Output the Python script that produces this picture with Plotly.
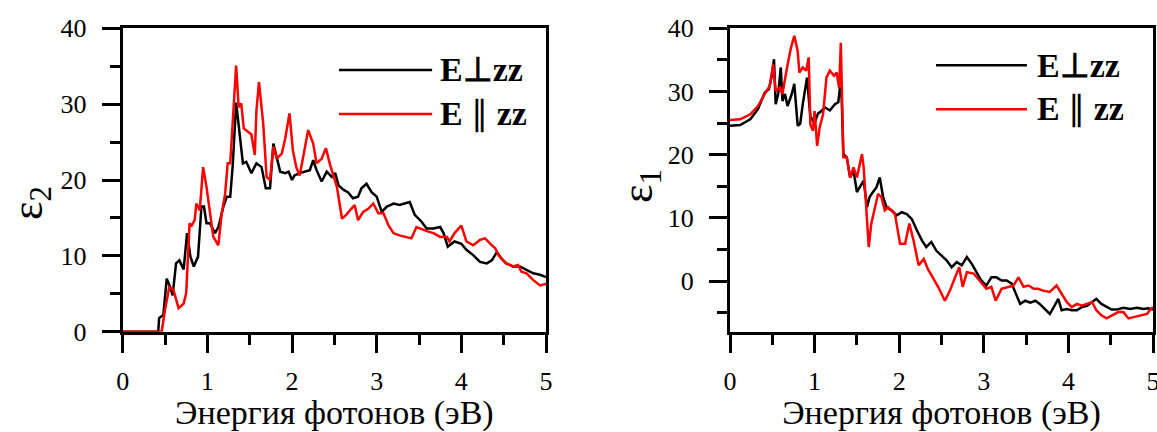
import plotly.graph_objects as go

# ---- data: imaginary part eps2 (left panel) ----
e2_perp_E = [0.00, 0.42, 0.43, 0.48, 0.52, 0.56, 0.59, 0.63, 0.67, 0.72, 0.76, 0.80, 0.84, 0.89,
             0.93, 0.96, 0.99, 1.03, 1.09, 1.13, 1.19, 1.23, 1.27, 1.30, 1.34, 1.39, 1.42, 1.46,
             1.52, 1.58, 1.64, 1.69, 1.74, 1.78, 1.82, 1.86, 1.92, 1.96, 2.00, 2.03, 2.09, 2.15,
             2.21, 2.25, 2.29, 2.35, 2.41, 2.47, 2.51, 2.55, 2.61, 2.66, 2.72, 2.78, 2.82, 2.88,
             2.94, 3.00, 3.06, 3.12, 3.20, 3.27, 3.35, 3.39, 3.45, 3.53, 3.59, 3.67, 3.75, 3.79,
             3.84, 3.92, 4.00, 4.06, 4.14, 4.22, 4.30, 4.36, 4.42, 4.47, 4.53, 4.61, 4.69, 4.77,
             4.85, 4.93, 5.00]
e2_perp = [0.0, 0.0, 1.8, 2.2, 7.0, 5.9, 4.8, 9.0, 9.4, 8.2, 13.0, 9.9, 8.6, 9.9,
           16.5, 16.5, 14.3, 14.3, 13.0, 13.8, 16.5, 17.8, 17.8, 22.0, 30.2, 24.8, 22.2, 22.4,
           20.9, 22.2, 21.7, 18.9, 18.9, 24.8, 23.0, 21.1, 20.9, 21.1, 20.0, 20.6, 20.9, 21.1,
           21.3, 22.6, 21.3, 19.8, 21.1, 20.4, 20.9, 19.3, 18.7, 18.4, 17.6, 17.8, 18.9, 19.5,
           18.4, 17.8, 15.8, 16.5, 16.9, 16.7, 16.9, 17.1, 15.4, 14.5, 13.6, 13.6, 13.8, 13.0,
           11.2, 11.9, 11.6, 10.8, 10.1, 9.2, 9.0, 9.4, 10.5, 9.7, 9.0, 8.6, 8.6, 8.1,
           7.7, 7.5, 7.2]

e2_par_E = [0.00, 0.46, 0.50, 0.55, 0.60, 0.66, 0.72, 0.75, 0.79, 0.81, 0.85, 0.87, 0.91, 0.95,
            0.99, 1.03, 1.07, 1.13, 1.17, 1.21, 1.24, 1.27, 1.31, 1.34, 1.37, 1.40, 1.43, 1.48,
            1.52, 1.56, 1.58, 1.61, 1.66, 1.70, 1.74, 1.78, 1.82, 1.88, 1.92, 1.97, 2.01, 2.05,
            2.09, 2.14, 2.19, 2.25, 2.29, 2.35, 2.40, 2.45, 2.49, 2.53, 2.59, 2.64, 2.70, 2.74,
            2.78, 2.84, 2.90, 2.96, 3.02, 3.08, 3.14, 3.20, 3.27, 3.35, 3.41, 3.47, 3.55, 3.61,
            3.67, 3.75, 3.83, 3.86, 3.92, 4.00, 4.06, 4.14, 4.22, 4.28, 4.34, 4.40, 4.45, 4.53,
            4.61, 4.67, 4.71, 4.77, 4.85, 4.93, 5.00]
e2_par = [0.0, 0.0, 2.9, 5.9, 5.5, 3.1, 3.7, 5.1, 14.3, 13.9, 14.7, 16.9, 16.0, 21.7,
          19.1, 16.0, 12.5, 11.4, 15.6, 18.2, 22.2, 22.2, 29.2, 35.1, 29.6, 30.1, 26.8, 26.4,
          26.0, 23.3, 29.2, 32.9, 27.4, 20.4, 20.0, 24.4, 22.8, 23.5, 25.5, 28.8, 23.9, 21.7,
          20.6, 23.5, 26.6, 24.8, 22.2, 22.8, 24.2, 22.0, 20.6, 19.1, 14.9, 15.4, 16.2, 16.7,
          14.7, 15.8, 16.2, 16.9, 15.6, 15.6, 14.0, 13.0, 12.7, 12.5, 12.3, 13.8, 13.4, 13.2,
          13.0, 12.5, 12.5, 11.9, 13.0, 14.0, 11.9, 11.4, 12.1, 12.3, 11.6, 11.0, 9.9, 9.0,
          8.6, 8.8, 7.9, 7.7, 6.8, 6.1, 6.3]

# ---- data: real part eps1 (right panel) ----
e1_perp_E = [0.00, 0.12, 0.24, 0.33, 0.41, 0.46, 0.49, 0.52, 0.54, 0.57, 0.60, 0.62, 0.65, 0.68,
             0.73, 0.76, 0.80, 0.83, 0.86, 0.89, 0.91, 0.95, 1.00, 1.04, 1.08, 1.12, 1.18, 1.24,
             1.28, 1.30, 1.32, 1.34, 1.38, 1.42, 1.46, 1.50, 1.54, 1.58, 1.62, 1.65, 1.69, 1.73,
             1.77, 1.81, 1.85, 1.91, 1.97, 2.03, 2.09, 2.15, 2.21, 2.27, 2.32, 2.38, 2.44, 2.50,
             2.56, 2.62, 2.68, 2.74, 2.80, 2.86, 2.92, 2.97, 3.03, 3.09, 3.15, 3.21, 3.27, 3.33,
             3.37, 3.43, 3.49, 3.55, 3.61, 3.66, 3.72, 3.78, 3.84, 3.88, 3.92, 3.98, 4.04, 4.10,
             4.16, 4.22, 4.28, 4.33, 4.39, 4.45, 4.51, 4.57, 4.65, 4.73, 4.81, 4.89, 4.94, 5.00]
e1_perp = [24.6, 24.7, 25.6, 27.2, 29.8, 30.4, 32.2, 35.1, 28.0, 29.6, 33.8, 28.5, 29.6, 27.7,
           29.6, 31.2, 24.6, 24.9, 28.0, 30.6, 32.2, 26.0, 25.0, 26.5, 26.9, 27.5, 27.0, 28.0,
           28.3, 30.7, 29.0, 20.1, 19.6, 16.4, 17.5, 14.1, 15.1, 15.9, 11.7, 13.3, 14.1, 14.8,
           16.4, 13.3, 11.7, 11.2, 10.4, 10.9, 10.6, 9.8, 8.0, 6.4, 5.4, 6.2, 4.8, 4.1,
           3.3, 2.2, 3.0, 2.5, 3.8, 2.7, 1.2, 0.1, -0.7, 0.6, 0.6, 0.1, 0.1, -0.4,
           -1.7, -3.6, -3.1, -3.4, -3.1, -3.6, -4.4, -5.2, -3.8, -2.8, -4.6, -4.4, -4.6, -4.6,
           -4.1, -3.9, -3.3, -2.8, -3.6, -4.1, -4.5, -4.5, -4.2, -4.4, -4.2, -4.4, -4.3, -4.5]

e1_par_E = [0.00, 0.12, 0.24, 0.33, 0.41, 0.47, 0.51, 0.54, 0.59, 0.62, 0.67, 0.72, 0.76, 0.80,
            0.82, 0.86, 0.90, 0.93, 0.95, 0.98, 1.00, 1.03, 1.06, 1.10, 1.14, 1.18, 1.23, 1.26,
            1.29, 1.31, 1.34, 1.38, 1.42, 1.46, 1.50, 1.56, 1.58, 1.64, 1.67, 1.71, 1.75, 1.79,
            1.83, 1.87, 1.91, 1.95, 2.01, 2.07, 2.12, 2.17, 2.23, 2.29, 2.34, 2.40, 2.46, 2.54,
            2.60, 2.66, 2.71, 2.75, 2.80, 2.88, 2.92, 2.97, 3.03, 3.09, 3.14, 3.21, 3.29, 3.35,
            3.41, 3.47, 3.53, 3.59, 3.64, 3.70, 3.78, 3.86, 3.92, 3.98, 4.04, 4.10, 4.16, 4.22,
            4.28, 4.33, 4.39, 4.45, 4.53, 4.59, 4.65, 4.71, 4.77, 4.85, 4.93, 4.96, 5.00]
e1_par = [25.5, 25.6, 26.4, 27.7, 29.6, 30.9, 34.3, 30.1, 30.6, 29.6, 33.5, 36.9, 38.8, 36.4,
          33.0, 33.8, 33.3, 35.4, 24.8, 23.8, 26.9, 21.4, 24.3, 26.4, 32.2, 33.3, 32.5, 33.0,
          30.6, 37.7, 19.6, 19.6, 16.4, 18.0, 16.4, 20.1, 18.0, 5.4, 9.1, 11.7, 13.8, 13.3,
          11.2, 11.7, 11.2, 10.6, 5.9, 5.9, 9.1, 6.4, 2.5, 3.5, 1.9, 0.6, -0.9, -3.1,
          -1.5, 0.6, 2.2, -0.9, 1.4, 1.2, 0.6, -0.2, -1.2, -0.9, -3.1, -1.2, -0.9, -0.7,
          0.6, -0.9, -0.7, -1.2, -1.2, -1.5, -1.7, -0.7, -2.0, -3.3, -4.1, -3.6, -3.9, -3.6,
          -3.3, -4.6, -5.4, -5.9, -5.4, -4.9, -4.9, -5.9, -5.7, -5.4, -5.2, -4.6, -4.1]

x_ticks = [0, 1, 2, 3, 4, 5]
y_ticks = [0, 10, 20, 30, 40]
series_labels = ["<b>E\u22a5zz</b>", "<b>E </b>\u2225<b> zz</b>"]
series_names = ["E\u22a5zz", "E \u2225 zz"]
x_title = "Энергия фотонов (эВ)"

# ---- styling ----
SERIF = "Liberation Serif"
BLACK = "#000000"
RED = "#ff0000"
LW = 2.5
W, H = 1157, 432

fig = go.Figure()
panels = [
    ("x", "y", e2_perp_E, e2_perp, e2_par_E, e2_par),
    ("x2", "y2", e1_perp_E, e1_perp, e1_par_E, e1_par),
]
for xa, ya, xb, yb, xr, yr in panels:
    fig.add_trace(go.Scatter(x=xb, y=yb, mode="lines", xaxis=xa, yaxis=ya,
                             line=dict(color=BLACK, width=LW), name=series_names[0],
                             showlegend=False))
    fig.add_trace(go.Scatter(x=xr, y=yr, mode="lines", xaxis=xa, yaxis=ya,
                             line=dict(color=RED, width=LW), name=series_names[1],
                             showlegend=False))

def xaxis_style(domain, anchor):
    return dict(domain=domain, range=[0, 5], tickvals=x_ticks, ticks="outside", anchor=anchor,
                ticklen=18, tickwidth=3, tickcolor=BLACK, showline=True, linewidth=3,
                linecolor=BLACK, mirror=True, showgrid=False, zeroline=False,
                automargin=False, ticklabeloverflow="allow",
                tickfont=dict(family=SERIF, size=26, color=BLACK), ticklabelstandoff=6,
                minor=dict(dtick=0.5, ticks="outside", ticklen=10, tickwidth=3,
                           tickcolor=BLACK, showgrid=False),
                title=dict(text=x_title, font=dict(family=SERIF, size=34, color=BLACK),
                           standoff=4))

def yaxis_style(domain, rng, anchor):
    return dict(domain=domain, range=rng, tickvals=y_ticks, ticks="outside",
                ticklen=18, tickwidth=3, tickcolor=BLACK, showline=True, linewidth=3,
                linecolor=BLACK, mirror=True, showgrid=False, zeroline=False, anchor=anchor,
                automargin=False, ticklabeloverflow="allow",
                tickfont=dict(family=SERIF, size=26, color=BLACK), ticklabelstandoff=10,
                minor=dict(dtick=5, ticks="outside", ticklen=10, tickwidth=3,
                           tickcolor=BLACK, showgrid=False))

ydom = [1 - 331.7 / H, 1 - 28.3 / H]
fig.update_layout(
    width=W, height=H, margin=dict(l=0, r=0, t=0, b=0, autoexpand=False),
    paper_bgcolor="white", plot_bgcolor="white", showlegend=False,
    xaxis=xaxis_style([122.7 / W, 546 / W], "y"),
    yaxis=yaxis_style(ydom, [0, 40], "x"),
    xaxis2=xaxis_style([730 / W, 1153 / W], "y2"),
    yaxis2=yaxis_style(ydom, [-8, 40], "x2"),
)

# in-plot legends: sample line + label, placed in axis-domain coordinates
legend_pos = [
    ("x", "y", 0.511, 0.731, 0.746, [0.8626, 0.7178]),
    ("x2", "y2", 0.487, 0.702, 0.722, [0.878, 0.733]),
]
for xa, ya, x0, x1, xt, ys in legend_pos:
    for label, col, yy in zip(series_labels, [BLACK, RED], ys):
        fig.add_shape(type="line", xref=f"{xa} domain", yref=f"{ya} domain",
                      x0=x0, x1=x1, y0=yy, y1=yy, line=dict(color=col, width=LW))
        fig.add_annotation(xref=f"{xa} domain", yref=f"{ya} domain", x=xt, y=yy,
                           text=label, showarrow=False, xanchor="left",
                           yanchor="middle",
                           font=dict(family=SERIF, size=34, color=BLACK))

# y-axis titles
fig.add_annotation(xref="paper", yref="paper", x=30 / W, y=1 - 203 / H,
                   text="\u03b5<sub>2</sub>", showarrow=False, textangle=-90,
                   xanchor="center", yanchor="middle",
                   font=dict(family=SERIF, size=44, color=BLACK))
fig.add_annotation(xref="paper", yref="paper", x=640 / W, y=1 - 186 / H,
                   text="\u03b5<sub>1</sub>", showarrow=False, textangle=-90,
                   xanchor="center", yanchor="middle",
                   font=dict(family=SERIF, size=44, color=BLACK))

fig.write_html("out.html")
